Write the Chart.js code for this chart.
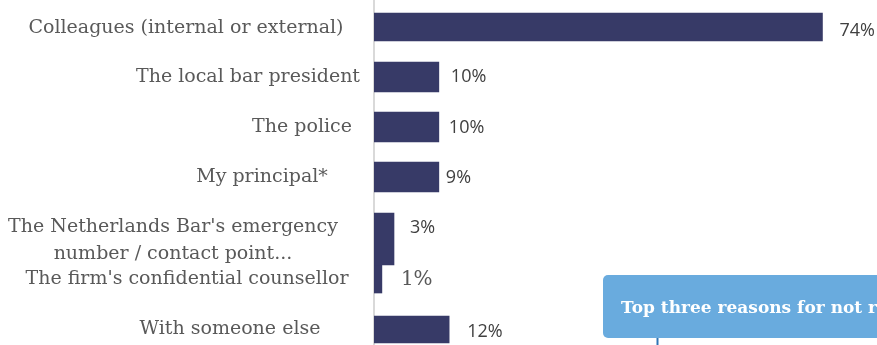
<!DOCTYPE html>
<html><head><meta charset="utf-8">
<script src="https://cdn.jsdelivr.net/npm/chart.js@4.4.1/dist/chart.umd.min.js"></script>
<style>html,body{margin:0;padding:0;background:#fff;overflow:hidden}#wrap{width:877px;height:345px;position:relative}</style>
</head><body><div id="wrap"><canvas id="c" width="877" height="345"></canvas></div>
<script>
// ---- data ----
const categories = [
  "Colleagues (internal or external)",
  "The local bar president",
  "The police",
  "My principal*",
  ["The Netherlands Bar's emergency", "number / contact point..."],
  "The firm's confidential counsellor",
  "With someone else"
];
const barValues = [74, 10.7, 10.7, 10.7, 3.3, 1.3, 12.4];
const valueLabels = ["74%", "10%", "10%", "9%", "3%", "1%", "12%"];
const calloutText = "Top three reasons for not reporting";

// ---- layout (not data) ----
const slotPos = [0, 1, 2, 3, 4.24, 5.04, 6.05];
const barThick = [28, 30, 30, 30, 52, 28, 27];
const catCenterX = [186, 248, 302, 262, 173, 187, 230];
const catDy = [1, 0, 0, 0, 2, 0, 0];
const valDx = [17, 12, 10, 7, 16, 19, 18];
const valDy = [4, 0, 1, 1, -11, 1, 2];
const valSerif = [false, false, false, false, false, true, false];

const BAR = '#373A67';

const overlay = {
  id: 'overlay',
  afterDraw(chart) {
    const ctx = chart.ctx;
    const ys = chart.scales.y;
    ctx.save();
    // category labels
    ctx.fillStyle = '#595959';
    ctx.font = '19px "DejaVu Serif"';
    ctx.textAlign = 'center';
    ctx.textBaseline = 'middle';
    categories.forEach((c, i) => {
      const y = ys.getPixelForValue(slotPos[i]) + catDy[i];
      const lines = Array.isArray(c) ? c : [c];
      const lh = 27;
      lines.forEach((l, k) => {
        ctx.fillText(l, catCenterX[i], y + (k - (lines.length - 1) / 2) * lh);
      });
    });
    // value labels
    ctx.textAlign = 'left';
    chart.data.datasets.forEach((ds, i) => {
      const el = chart.getDatasetMeta(i).data[0];
      if (valSerif[i]) { ctx.font = '20px "DejaVu Serif"'; ctx.fillStyle = '#595959'; }
      else { ctx.font = '18px "Open Sans"'; ctx.fillStyle = '#404040'; }
      ctx.fillText(valueLabels[i], el.x + valDx[i], el.y + valDy[i]);
    });
    // callout box
    ctx.fillStyle = '#69ABDE';
    ctx.beginPath();
    ctx.roundRect(603, 275, 300, 63, 5);
    ctx.fill();
    ctx.fillStyle = '#FFFFFF';
    ctx.font = 'bold 17px "DejaVu Serif"';
    ctx.textBaseline = 'alphabetic';
    ctx.fillText(calloutText, 621, 313);
    ctx.strokeStyle = '#2E75B6';
    ctx.lineWidth = 2;
    ctx.beginPath();
    ctx.moveTo(657.5, 338);
    ctx.lineTo(657.5, 345);
    ctx.stroke();
    ctx.restore();
  }
};

new Chart(document.getElementById('c'), {
  type: 'bar',
  data: {
    datasets: categories.map((c, i) => ({
      label: Array.isArray(c) ? c.join(' ') : c,
      data: [{ x: barValues[i], y: slotPos[i] }],
      barThickness: barThick[i],
      grouped: false,
      backgroundColor: BAR,
      borderWidth: 0
    }))
  },
  options: {
    responsive: false,
    animation: false,
    indexAxis: 'y',
    datasets: { bar: { grouped: false } },
    layout: { padding: { left: 374, right: 0, top: 0, bottom: 0 } },
    plugins: { legend: { display: false }, tooltip: { enabled: false } },
    scales: {
      x: { type: 'linear', min: 0, max: 83, display: false, offset: false },
      y: {
        type: 'linear', min: -0.54, max: 6.36, reverse: true, offset: false,
        ticks: { display: false },
        grid: { display: false, drawTicks: false, offset: false },
        border: { display: true, color: '#D9D9D9', width: 2 }
      }
    }
  },
  plugins: [overlay]
});
</script>
</body></html>
